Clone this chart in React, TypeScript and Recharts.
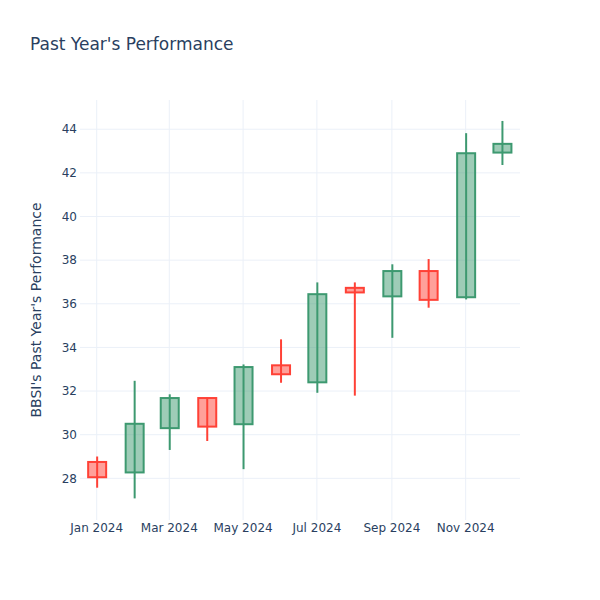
import React from 'react';
import { ComposedChart, Bar, XAxis, YAxis, CartesianGrid } from 'recharts';

const months = ['2024-01-01', '2024-02-01', '2024-03-01', '2024-04-01', '2024-05-01', '2024-06-01', '2024-07-01', '2024-08-01', '2024-09-01', '2024-10-01', '2024-11-01', '2024-12-01'];
const openVals = [28.75, 28.27, 30.3, 31.68, 30.48, 33.18, 32.4, 36.73, 36.34, 37.5, 36.3, 42.93];
const highVals = [29.0, 32.47, 31.85, 31.7, 33.22, 34.37, 36.98, 36.98, 37.81, 38.05, 43.82, 44.38];
const lowVals = [27.57, 27.08, 29.3, 29.71, 28.42, 32.38, 31.92, 31.79, 34.44, 35.82, 36.2, 42.36];
const closeVals = [28.05, 30.5, 31.68, 30.37, 33.1, 32.77, 36.44, 36.52, 37.5, 36.18, 42.9, 43.33];

const xTickDates = ['2024-01-01', '2024-03-01', '2024-05-01', '2024-07-01', '2024-09-01', '2024-11-01'];
const yTicks = [28, 30, 32, 34, 36, 38, 40, 42, 44];
const monthNames = ['Jan', 'Feb', 'Mar', 'Apr', 'May', 'Jun', 'Jul', 'Aug', 'Sep', 'Oct', 'Nov', 'Dec'];

const DAY = 86400000;
const ts = (s: string) => Date.parse(s + 'T00:00:00Z');
const xTicks = xTickDates.map(ts);

const data = months.map((m, i) => ({
  t: ts(m),
  open: openVals[i],
  high: highVals[i],
  low: lowVals[i],
  close: closeVals[i],
  range: [lowVals[i], highVals[i]],
}));

const xDomain = [ts('2024-01-01') - 13.8 * DAY, ts('2024-11-01') + 44.9 * DAY];
const yDomain = [26.09, 45.34];

const INC = '#3D9970';
const DEC = '#FF4136';
const GRID = '#EBF0F8';
const FONT = '"DejaVu Sans", "Open Sans", verdana, arial, sans-serif';
const TEXT = '#2a3f5f';

const Candle = (props: any) => {
  const { x, y, width, height, payload } = props;
  if (payload == null || height == null) return null;
  const { open, close, high, low } = payload;
  const span = high - low;
  const pix = (v: number) => y + ((high - v) / span) * height;
  const up = close >= open;
  const color = up ? INC : DEC;
  const cx = x + width / 2;
  const top = pix(Math.max(open, close));
  const bot = pix(Math.min(open, close));
  return (
    <g>
      <line x1={cx} x2={cx} y1={y} y2={y + height} stroke={color} strokeWidth={2} />
      <rect x={x} y={top} width={width} height={Math.max(bot - top, 0.5)} fill={color} fillOpacity={0.5} stroke={color} strokeWidth={2} />
    </g>
  );
};

const YLabel = () => (
  <text x={36} y={310} transform="rotate(-90 36 310)" textAnchor="middle" dominantBaseline="central" fontFamily={FONT} fontSize={14} fill={TEXT}>
    BBSI's Past Year's Performance
  </text>
);

export default function App() {
  return (
    <div style={{ position: 'absolute', left: 0, top: 0, width: 600, height: 600, background: '#fff' }}>
      <div style={{ position: 'absolute', left: 30, top: 33, fontFamily: FONT, fontSize: 17, color: TEXT, lineHeight: '22px', whiteSpace: 'nowrap' }}>
        Past Year's Performance
      </div>
      <ComposedChart width={600} height={600} data={data} margin={{ top: 100, right: 80, bottom: 0, left: 0 }}>
        <CartesianGrid stroke={GRID} strokeWidth={1} syncWithTicks />
        <XAxis
          dataKey="t"
          type="number"
          domain={xDomain}
          allowDataOverflow
          ticks={xTicks}
          tickFormatter={(v: number) => {
            const d = new Date(v);
            return monthNames[d.getUTCMonth()] + ' ' + d.getUTCFullYear();
          }}
          axisLine={false}
          tickLine={false}
          tickSize={0}
          tickMargin={3}
          height={80}
          tick={{ fontFamily: FONT, fontSize: 12, fill: TEXT }}
        />
        <YAxis
          type="number"
          domain={yDomain}
          allowDataOverflow
          ticks={yTicks}
          axisLine={false}
          tickLine={false}
          tickSize={0}
          tickMargin={3}
          width={80}
          tick={{ fontFamily: FONT, fontSize: 12, fill: TEXT }}
          label={<YLabel />}
        />
        <Bar dataKey="range" barSize={18} shape={<Candle />} isAnimationActive={false} />
      </ComposedChart>
    </div>
  );
}
